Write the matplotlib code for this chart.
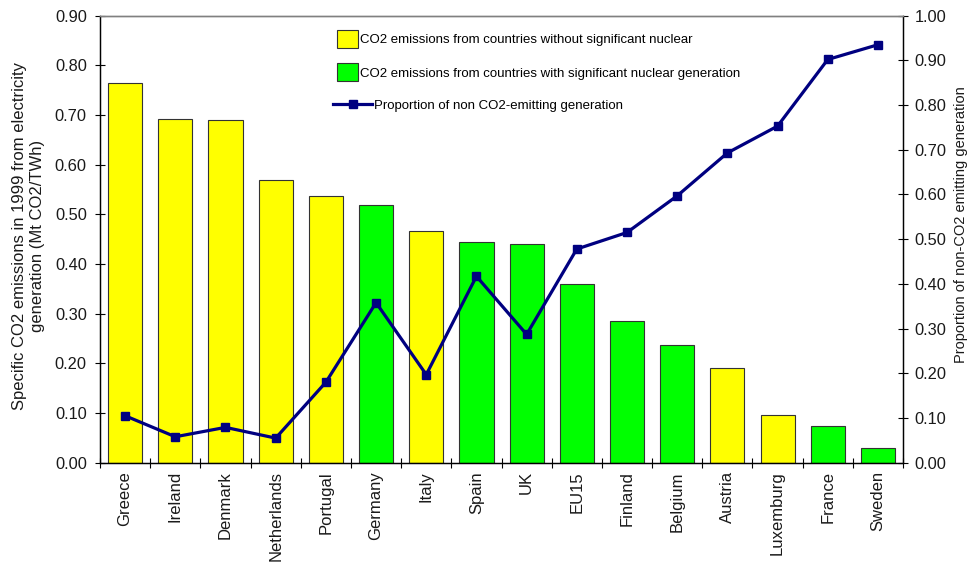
import matplotlib
matplotlib.use("Agg")
import matplotlib.pyplot as plt
from matplotlib.patches import Patch
from matplotlib.lines import Line2D
from matplotlib.ticker import FormatStrFormatter, MultipleLocator, FixedLocator
import numpy as np

plt.rcParams["font.family"] = ["Liberation Sans", "DejaVu Sans"]

# 各国数据（1999年）
countries = ["Greece", "Ireland", "Denmark", "Netherlands", "Portugal", "Germany",
             "Italy", "Spain", "UK", "EU15", "Finland", "Belgium", "Austria",
             "Luxemburg", "France", "Sweden"]
co2_intensity = [0.764, 0.691, 0.689, 0.569, 0.537, 0.519, 0.466, 0.445, 0.441,
                 0.360, 0.285, 0.237, 0.191, 0.096, 0.073, 0.030]
has_nuclear = [False, False, False, False, False, True, False, True, True,
               True, True, True, False, False, True, True]
non_co2_share = [0.105, 0.058, 0.079, 0.055, 0.180, 0.358, 0.197, 0.417, 0.287,
                 0.478, 0.515, 0.597, 0.693, 0.753, 0.902, 0.935]

legend_labels = ["CO2 emissions from countries without significant nuclear",
                 "CO2 emissions from countries with significant nuclear generation",
                 "Proportion of non CO2-emitting generation"]

YELLOW = "#ffff00"
GREEN = "#00ff00"
NAVY = "#000080"
TEXT = "#1a1a1a"

fig = plt.figure(figsize=(9.73, 5.62), dpi=100)
ax = fig.add_axes([0.1028, 0.1767, 0.8253, 0.7954])

x = np.arange(len(countries))
colors = [GREEN if n else YELLOW for n in has_nuclear]
ax.bar(x, co2_intensity, width=0.68, color=colors, edgecolor="#333333", linewidth=0.8)
ax.set_xlim(-0.5, len(countries) - 0.5)
ax.set_ylim(0, 0.9)
ax.yaxis.set_major_locator(MultipleLocator(0.1))
ax.yaxis.set_major_formatter(FormatStrFormatter("%.2f"))
ax.tick_params(axis="y", direction="inout", length=7, width=0.8, pad=6,
               labelsize=11.8, labelcolor=TEXT)

# 国家名放在组中心，刻度线放在组之间
ax.set_xticks(x)
ax.set_xticklabels(countries, rotation=90)
ax.tick_params(axis="x", which="major", length=0, pad=6, labelsize=12, labelcolor=TEXT)
ax.xaxis.set_minor_locator(FixedLocator(np.arange(len(countries) + 1) - 0.5))
ax.tick_params(axis="x", which="minor", direction="inout", length=7, width=0.8)

ax.set_ylabel("Specific CO2 emissions in 1999 from electricity\ngeneration (Mt CO2/TWh)",
              fontsize=12, color=TEXT, linespacing=1.25)
ax.yaxis.set_label_coords(-0.068, 0.508)

ax2 = ax.twinx()
ax2.plot(x, non_co2_share, color=NAVY, linewidth=2.3, marker="s", markersize=6)
ax2.set_ylim(0, 1.0)
ax2.yaxis.set_major_locator(MultipleLocator(0.1))
ax2.yaxis.set_major_formatter(FormatStrFormatter("%.2f"))
ax2.tick_params(axis="y", direction="inout", length=7, width=0.8, pad=5,
                labelsize=11.8, labelcolor=TEXT)
ax2.set_ylabel("Proportion of non-CO2 emitting generation", fontsize=10.5, color=TEXT)
ax2.yaxis.set_label_coords(1.064, 0.532)

for a in (ax, ax2):
    a.spines["top"].set_color("#808080")
    a.spines["top"].set_linewidth(1.0)
    for s in ("left", "right", "bottom"):
        a.spines[s].set_color("black")
        a.spines[s].set_linewidth(0.9)

# 图例：柱形和折线分开放，折线图例的线段更长
bar_handles = [Patch(facecolor=YELLOW, edgecolor="#333333", linewidth=0.8),
               Patch(facecolor=GREEN, edgecolor="#333333", linewidth=0.8)]
leg1 = ax2.legend(bar_handles, legend_labels[:2], loc="upper left",
                  bbox_to_anchor=(0.295, 0.968), frameon=False, fontsize=9.5,
                  handlelength=1.6, handleheight=1.78, handletextpad=0.15,
                  labelspacing=1.1, borderpad=0, borderaxespad=0)
ax2.add_artist(leg1)
line_handle = Line2D([], [], color=NAVY, linewidth=2.3, marker="s", markersize=6)
ax2.legend([line_handle], legend_labels[2:], loc="upper left",
           bbox_to_anchor=(0.290, 0.813), frameon=False, fontsize=9.5,
           handlelength=3.0, handletextpad=0.1, borderpad=0, borderaxespad=0)

fig.savefig("out.png", dpi=100)
plt.close(fig)
